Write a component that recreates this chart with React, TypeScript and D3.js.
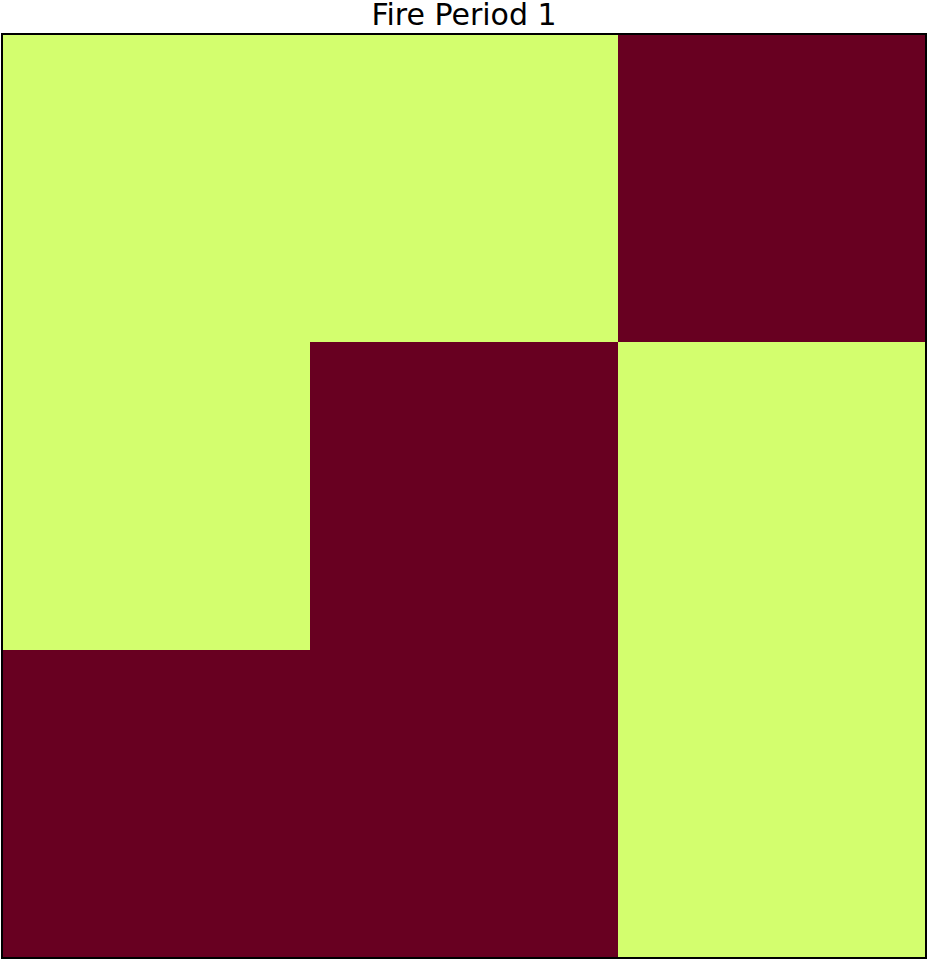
import { useEffect, useRef } from "react";
import * as d3 from "d3";

// 3x3 grid, row-major from top
const rows = [0, 1, 2];
const cols = [0, 1, 2];
const burned = [
  [0, 0, 1],
  [0, 1, 0],
  [1, 1, 0],
];
const title = "Fire Period 1";

const App = () => {
  const ref = useRef<SVGSVGElement | null>(null);

  useEffect(() => {
    if (!ref.current) return;
    const svg = d3.select(ref.current);
    svg.selectAll("*").remove();

    const width = 927;
    const height = 960;
    const margin = { top: 34, left: 2, right: 1, bottom: 2 };
    const innerW = width - margin.left - margin.right;
    const innerH = height - margin.top - margin.bottom;

    const x = d3.scaleBand<number>().domain(cols).range([0, innerW]);
    const y = d3.scaleBand<number>().domain(rows).range([0, innerH]);
    const color = d3.scaleOrdinal<number, string>().domain([0, 1]).range(["#d3fe6e", "#680021"]);

    const g = svg.append("g").attr("transform", `translate(${margin.left},${margin.top})`);

    const cells = rows.flatMap((r) => cols.map((c) => ({ r, c, v: burned[r][c] })));

    g.selectAll("rect.cell")
      .data(cells)
      .enter()
      .append("rect")
      .attr("class", "cell")
      .attr("x", (d) => x(d.c)!)
      .attr("y", (d) => y(d.r)!)
      .attr("width", x.bandwidth() + 0.5)
      .attr("height", y.bandwidth() + 0.5)
      .attr("fill", (d) => color(d.v));

    // Marco
    g.append("rect")
      .attr("x", 0)
      .attr("y", 0)
      .attr("width", innerW)
      .attr("height", innerH)
      .attr("fill", "none")
      .attr("stroke", "#000")
      .attr("stroke-width", 2);

    svg.append("text")
      .attr("x", margin.left + innerW / 2)
      .attr("y", 25)
      .attr("text-anchor", "middle")
      .style("font-family", "DejaVu Sans")
      .style("font-size", "30px")
      .style("fill", "#000")
      .text(title);
  }, []);

  return (
    <svg
      ref={ref}
      width={927}
      height={960}
      style={{ position: "absolute", left: 0, top: 0, display: "block", background: "#fff" }}
    />
  );
};

export default App;
